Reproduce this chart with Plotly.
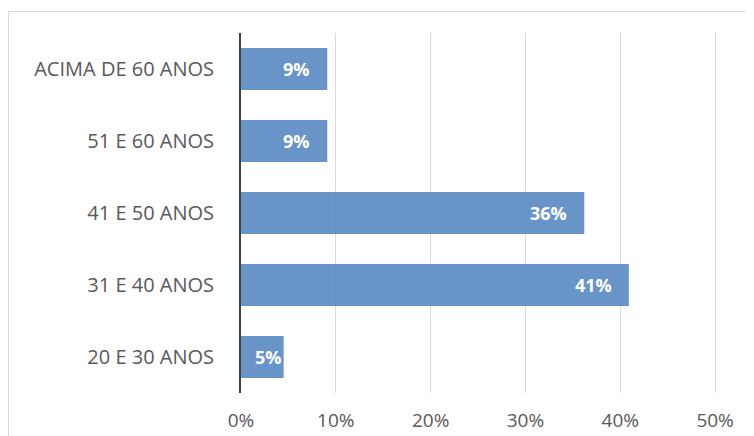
import plotly.graph_objects as go

categories = ["20 E 30 ANOS", "31 E 40 ANOS", "41 E 50 ANOS", "51 E 60 ANOS", "ACIMA DE 60 ANOS"]
values = [0.045, 0.409, 0.362, 0.091, 0.091]
labels = ["5%", "41%", "36%", "9%", "9%"]
x_ticks = [0, 0.1, 0.2, 0.3, 0.4, 0.5]
x_tick_labels = ["0%", "10%", "20%", "30%", "40%", "50%"]

# page body has an 8px margin, so the figure is offset by 8px inside the window
W, H = 738, 436
L, R, T, B = 233, 29, 25, 51

fig = go.Figure()
fig.add_trace(go.Bar(
    y=categories, x=values, orientation="h",
    marker=dict(color="rgba(79,129,189,0.85)", line=dict(width=0)),
    hoverinfo="skip",
))

annotations = []
for c, v, t in zip(categories, values, labels):
    annotations.append(dict(
        x=v, y=c, xref="x", yref="y", text=t, showarrow=False,
        xanchor="right", yanchor="middle", xshift=(-15 if v > 0.06 else 0),
        font=dict(family="Open Sans", size=18, color="white", weight="bold"),
    ))

pw = W - L - R
ph = H - T - B
fig.update_layout(
    width=W, height=H,
    margin=dict(l=L, r=R, t=T, b=B, pad=0, autoexpand=False),
    paper_bgcolor="white", plot_bgcolor="white",
    bargap=0.42,
    showlegend=False,
    font=dict(family="Open Sans", size=20, color="#595959"),
    annotations=annotations,
    shapes=[dict(
        type="rect", xref="paper", yref="paper",
        x0=(0.5 - L) / pw, x1=(W + 20 - L) / pw,
        y0=-(B + 20) / ph, y1=(H - 3.5 - B) / ph,
        line=dict(color="#D9D9D9", width=1), fillcolor="rgba(0,0,0,0)", layer="below",
    )],
    xaxis=dict(
        range=[0, 0.502], tickvals=x_ticks, ticktext=x_tick_labels,
        showgrid=True, gridcolor="#D9D9D9", gridwidth=1,
        zeroline=False, showline=False, ticks="",
        ticklabelstandoff=14, automargin=False,
        tickfont=dict(size=19, color="#595959"),
        fixedrange=True,
    ),
    yaxis=dict(
        showgrid=False, zeroline=False,
        showline=True, linecolor="#404040", linewidth=2,
        ticks="", ticklabelstandoff=21, automargin=False,
        tickfont=dict(size=20, color="#595959"),
        fixedrange=True,
    ),
)

fig.write_html("out.html", config={"displayModeBar": False})
